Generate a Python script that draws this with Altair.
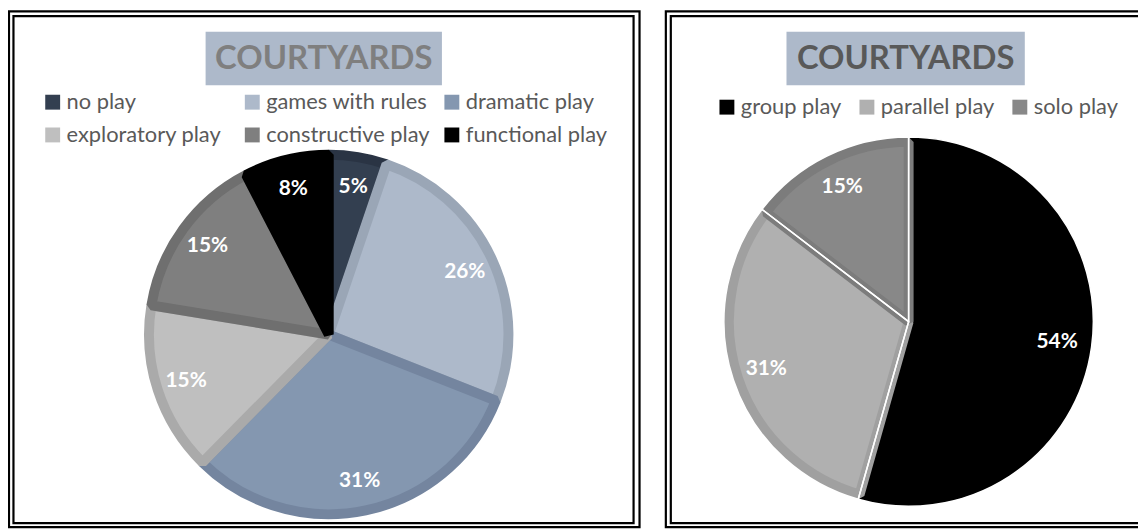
import altair as alt
import pandas as pd

FONT = "Lato"

# ---- data ----
left_cats = ["no play", "games with rules", "dramatic play",
             "exploratory play", "constructive play", "functional play"]
left_vals = [5.2, 25.8, 31.4, 15.2, 14.8, 7.6]
left_fill = ["#333f50", "#adb9ca", "#8497b0", "#bfbfbf", "#7f7f7f", "#000000"]
left_edge = ["#2a3444", "#9aa6b6", "#74859f", "#aaaaaa", "#6f6f6f", "#000000"]

right_cats = ["group play", "parallel play", "solo play"]
right_vals = [54.4, 31.0, 14.6]
right_fill = ["#000000", "#b0b0b0", "#888888"]
right_edge = ["#000000", "#a0a0a0", "#7c7c7c"]

titles = ["COURTYARDS", "COURTYARDS"]


def make_df(cats, vals, edges):
    return pd.DataFrame({
        "cat": cats,
        "val": vals,
        "idx": list(range(len(cats))),
        "edge": edges,
        "label": [f"{round(v)}%" for v in vals],
    })


left_df = make_df(left_cats, left_vals, left_edge)
right_df = make_df(right_cats, right_vals, right_edge)

one = alt.Data(values=[{}])


def frame(x, y, x2, y2):
    return alt.Chart(one).mark_rect(fillOpacity=0, stroke="black", strokeWidth=2.2).encode(
        x=alt.value(x), y=alt.value(y), x2=alt.value(x2), y2=alt.value(y2))


def title_layers(text, x, y, x2, y2, color):
    box = alt.Chart(one).mark_rect(color="#adb9ca").encode(
        x=alt.value(x), y=alt.value(y), x2=alt.value(x2), y2=alt.value(y2))
    txt = alt.Chart(alt.Data(values=[{"t": text}])).mark_text(
        font=FONT, fontSize=33, fontWeight="bold", color=color,
        align="center", baseline="middle").encode(
        text="t:N", x=alt.value((x + x2) / 2), y=alt.value((y + y2) / 2 + 1))
    return [box, txt]


def pie_layers(df, cats, fills, cx, cy, legend, separators=False):
    base = alt.Chart(df)
    arc = base.mark_arc(outerRadius=181, strokeWidth=10, strokeJoin="bevel").encode(
        theta=alt.Theta("val:Q", stack=True),
        order=alt.Order("idx:Q"),
        color=alt.Color("cat:N", scale=alt.Scale(domain=cats, range=fills), legend=legend),
        stroke=alt.Stroke("edge:N", scale=None),
        x=alt.value(cx), y=alt.value(cy),
    )
    out = [arc]
    if separators:
        sep = base.mark_arc(outerRadius=186, fillOpacity=0, stroke="white", strokeWidth=1.5).encode(
            theta=alt.Theta("val:Q", stack=True),
            order=alt.Order("idx:Q"),
            detail="cat:N",
            x=alt.value(cx), y=alt.value(cy),
        )
        out.append(sep)
    txt = base.mark_text(radius=151, font=FONT, fontSize=21, fontWeight="bold",
                         color="white", align="center", baseline="middle").encode(
        theta=alt.Theta("val:Q", stack=True),
        order=alt.Order("idx:Q"),
        detail="cat:N",
        text="label:N",
        x=alt.value(cx), y=alt.value(cy),
    )
    out.append(txt)
    return out


legend_common = dict(
    orient="none", direction="horizontal", title=None,
    symbolType="square", symbolSize=225, symbolStrokeWidth=0,
    labelFont=FONT, labelFontSize=22, labelColor="#595959",
    labelOffset=3, padding=0, labelLimit=400,
)

left_legend = alt.Legend(legendX=34, legendY=82, columns=3, columnPadding=11,
                         rowPadding=11, gridAlign="all", **legend_common)
right_legend = alt.Legend(legendX=713, legendY=87, columns=3, columnPadding=14,
                          gridAlign="each", **legend_common)

layers = []
# double frames
layers += [frame(1, 1.5, 636, 521), frame(5.5, 6.3, 630, 517)]
layers += [frame(662.5, 1.5, 1160, 521), frame(667.5, 6.3, 1155, 517)]
# titles
layers += title_layers(titles[0], 199, 22, 437, 76, "#7f7f7f")
layers += title_layers(titles[1], 784, 22, 1024, 76, "#595959")
# pies
layers += pie_layers(left_df, left_cats, left_fill, 323, 327, left_legend)
layers += pie_layers(right_df, right_cats, right_fill, 907, 314, right_legend, separators=True)

chart = alt.layer(*layers).resolve_scale(color="independent").properties(
    width=1138, height=523,
    autosize=alt.AutoSizeParams(type="none"),
    padding=0,
).configure_view(stroke=None)

chart.save("out.html", embed_options={"renderer": "svg", "actions": False})
